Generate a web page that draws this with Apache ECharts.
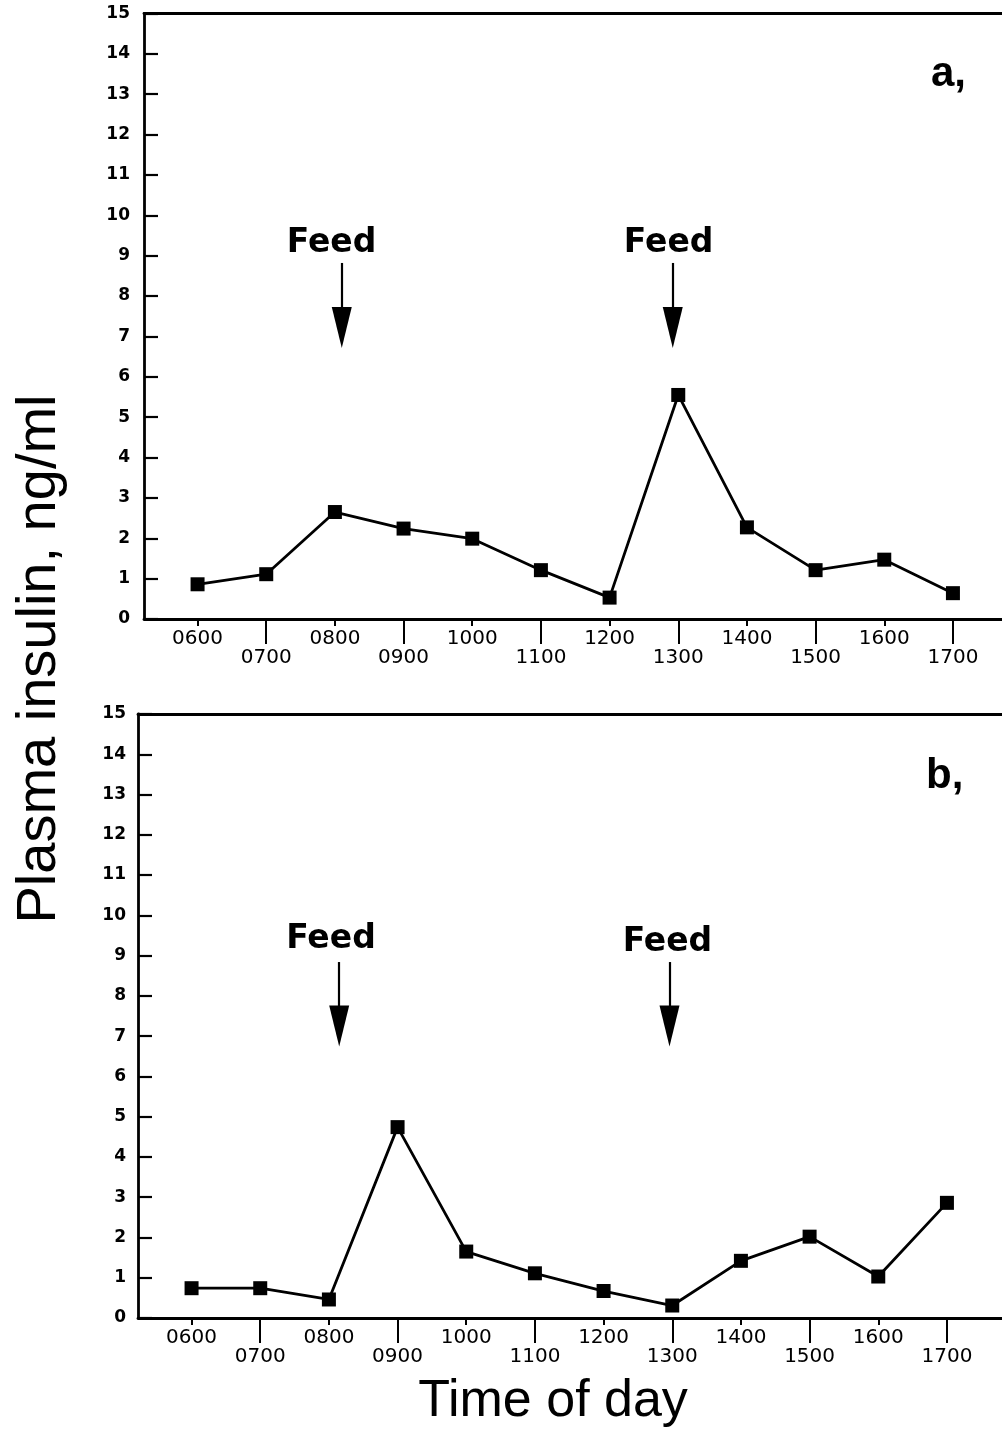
<!DOCTYPE html>
<html>
<head>
<meta charset="utf-8">
<title>Plasma insulin, ng/ml</title>
<script src="https://cdn.jsdelivr.net/npm/echarts@6/dist/echarts.min.js"></script>
<style>
  html, body { margin: 0; padding: 0; background: #fff; }
  #chart { width: 1002px; height: 1438px; }
</style>
</head>
<body>
<div id="chart"></div>
<script>
// Sampling times (hour of day) and their printed labels
const hours = [6, 7, 8, 9, 10, 11, 12, 13, 14, 15, 16, 17];
const hourLabels = ['0600', '0700', '0800', '0900', '1000', '1100', '1200', '1300', '1400', '1500', '1600', '1700'];
const evenHours = [6, 8, 10, 12, 14, 16];
const oddHours = [7, 9, 11, 13, 15, 17];

// Plasma insulin (ng/ml) for panels a and b
const insulinA = [0.86, 1.11, 2.65, 2.24, 1.99, 1.21, 0.53, 5.55, 2.27, 1.21, 1.47, 0.64];
const insulinB = [0.74, 0.74, 0.46, 4.74, 1.65, 1.11, 0.67, 0.31, 1.42, 2.02, 1.03, 2.86];

// Y axis range
const yMin = 0, yMax = 15, yStep = 1;

// Feeding times (hour of day) marked by arrows
const feedTimesA = [8.10, 12.92];
const feedTimesB = [8.15, 12.96];

const X_MIN = 5.22;
const FONT = 'DejaVu Sans';
const HELV = 'Liberation Sans';

const labelFor = v => {
  const i = hours.indexOf(Math.round(v));
  return i >= 0 ? hourLabels[i] : '';
};

function xAxes(gridIndex, xMax) {
  const base = {
    type: 'value', gridIndex, position: 'bottom', min: X_MIN, max: xMax,
    splitLine: { show: false }
  };
  return [
    Object.assign({}, base, {
      axisLine: { show: true, lineStyle: { color: '#000', width: 2.8 } },
      axisTick: { show: true, customValues: evenHours, length: 7, lineStyle: { color: '#000', width: 2 } },
      axisLabel: { show: true, customValues: evenHours, margin: 10, formatter: labelFor,
        color: '#000', fontFamily: FONT, fontSize: 20, verticalAlign: 'top' }
    }),
    Object.assign({}, base, {
      axisLine: { show: false },
      axisTick: { show: true, customValues: oddHours, length: 25, lineStyle: { color: '#000', width: 2 } },
      axisLabel: { show: true, customValues: oddHours, margin: 29, formatter: labelFor,
        color: '#000', fontFamily: FONT, fontSize: 20, verticalAlign: 'top' }
    }),
    // top frame line of the panel
    Object.assign({}, base, {
      position: 'top',
      axisLine: { show: true, lineStyle: { color: '#000', width: 2.8 } },
      axisTick: { show: false }, axisLabel: { show: false }
    })
  ];
}

function yAxis(gridIndex, margin) {
  return {
    type: 'value', gridIndex, min: yMin, max: yMax, interval: yStep,
    splitLine: { show: false },
    axisLine: { show: true, lineStyle: { color: '#000', width: 2.8 } },
    axisTick: { show: true, inside: true, length: 14, lineStyle: { color: '#000', width: 2.2 } },
    axisLabel: { margin, color: '#000', fontFamily: FONT, fontWeight: 'bold', fontSize: 17 }
  };
}

// Arrow (shaft + head) and "Feed" caption for each feeding time
function feedMarks(times, ys) {
  const lines = [], points = [];
  times.forEach((t, i) => {
    lines.push([{ coord: [t, ys.shaftTop] }, { coord: [t, ys.headTop - 0.1] }]);
    points.push({
      coord: [t, ys.headMid],
      symbol: 'path://M0,0L20,0L10,40Z', symbolSize: [20, 41],
      itemStyle: { color: '#000' }, label: { show: false }
    });
    points.push({
      coord: [ys.textX[i], ys.textY[i]],
      symbol: 'rect', symbolSize: 1, itemStyle: { color: 'rgba(0,0,0,0)' },
      label: { show: true, position: 'inside', formatter: 'Feed', color: '#000',
        fontFamily: FONT, fontWeight: 'bold', fontSize: 33 }
    });
  });
  return {
    markLine: { silent: true, symbol: ['none', 'none'], label: { show: false },
      lineStyle: { color: '#000', width: 2.2, type: 'solid' }, data: lines, animation: false },
    markPoint: { silent: true, data: points, animation: false }
  };
}

function lineSeries(values, xi, yi, marks) {
  return Object.assign({
    type: 'line', xAxisIndex: xi, yAxisIndex: yi,
    data: hours.map((h, i) => [h, values[i]]),
    symbol: 'rect', symbolSize: 14, showSymbol: true,
    lineStyle: { color: '#000', width: 2.8 },
    itemStyle: { color: '#000' },
    emphasis: { disabled: true },
    animation: false, z: 5
  }, marks);
}

const chart = echarts.init(document.getElementById('chart'), null, { renderer: 'canvas' });

const PX_PER_HOUR = 68.67;
const topLeft = 144, botLeft = 138, viewW = 1002;

chart.setOption({
  backgroundColor: '#fff',
  animation: false,
  grid: [
    { left: topLeft, top: 13.5, right: 0, height: 605.5 },
    { left: botLeft, top: 714, right: 0, height: 604 }
  ],
  xAxis: xAxes(0, X_MIN + (viewW - topLeft) / PX_PER_HOUR)
    .concat(xAxes(1, X_MIN + (viewW - botLeft) / PX_PER_HOUR)),
  yAxis: [yAxis(0, 14), yAxis(1, 12)],
  series: [
    lineSeries(insulinA, 0, 0, feedMarks(feedTimesA, {
      shaftTop: 8.82, headTop: 7.73, headMid: 7.22,
      textX: [7.95, 12.86], textY: [9.31, 9.31]
    })),
    lineSeries(insulinB, 3, 1, feedMarks(feedTimesB, {
      shaftTop: 8.84, headTop: 7.77, headMid: 7.25,
      textX: [8.03, 12.93], textY: [9.39, 9.32]
    }))
  ],
  graphic: [
    { type: 'text', x: 40, y: 659, rotation: Math.PI / 2, silent: true,
      style: { text: 'Plasma insulin, ng/ml', fill: '#000', font: '56px "' + HELV + '"',
        align: 'center', verticalAlign: 'middle' } },
    { type: 'text', x: 553, y: 1402, silent: true,
      style: { text: 'Time of day', fill: '#000', font: '52px "' + HELV + '"',
        align: 'center', verticalAlign: 'middle' } },
    { type: 'text', x: 931, y: 74, silent: true,
      style: { text: 'a,', fill: '#000', font: 'bold 42px "' + HELV + '"',
        align: 'left', verticalAlign: 'middle' } },
    { type: 'text', x: 926, y: 776, silent: true,
      style: { text: 'b,', fill: '#000', font: 'bold 42px "' + HELV + '"',
        align: 'left', verticalAlign: 'middle' } }
  ]
});
</script>
</body>
</html>
